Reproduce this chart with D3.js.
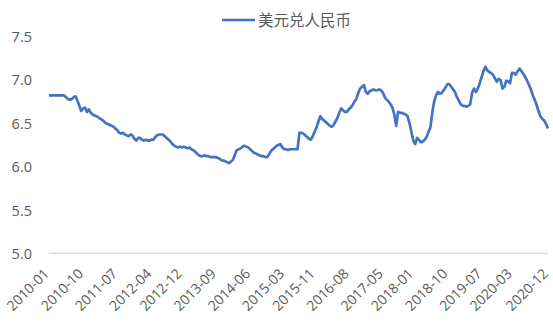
<!DOCTYPE html>
<html>
<head>
<meta charset="utf-8">
<script src="https://cdn.jsdelivr.net/npm/d3@7"></script>
<style>
html,body{margin:0;padding:0;background:#fff;}
svg{display:block;}
</style>
</head>
<body>
<svg id="chart" width="553" height="324"></svg>
<script>
const seriesName = "美元兑人民币";
const startYear = 2010, endYear = 2020;
// semi-monthly USD/CNY values (two per month: 1st and 16th), 2010-01 .. 2020-12
const values2010 = [6.82,6.82,6.82,6.82,6.82,6.82,6.82,6.82,6.82,6.80,6.78,6.77,6.78,6.80,6.81,6.76,6.70,6.64,6.67,6.68,6.63,6.66,6.62,6.60];
const values2011 = [6.59,6.58,6.57,6.55,6.54,6.52,6.50,6.49,6.48,6.47,6.46,6.44,6.42,6.39,6.38,6.39,6.37,6.36,6.35,6.37,6.36,6.32,6.30,6.33];
const values2012 = [6.33,6.31,6.30,6.31,6.30,6.30,6.31,6.31,6.34,6.36,6.37,6.37,6.37,6.35,6.33,6.31,6.29,6.26,6.24,6.23,6.22,6.23,6.22,6.23];
const values2013 = [6.22,6.21,6.22,6.20,6.19,6.17,6.15,6.13,6.12,6.12,6.13,6.12,6.12,6.11,6.11,6.11,6.11,6.10,6.09,6.07,6.07,6.06,6.05,6.04];
const values2014 = [6.06,6.08,6.14,6.19,6.20,6.21,6.23,6.24,6.23,6.22,6.20,6.18,6.16,6.15,6.14,6.13,6.12,6.12,6.11,6.11,6.14,6.18,6.20,6.22];
const values2015 = [6.24,6.25,6.26,6.22,6.20,6.20,6.19,6.20,6.20,6.20,6.20,6.20,6.39,6.39,6.38,6.36,6.34,6.32,6.31,6.35,6.40,6.45,6.52,6.58];
const values2016 = [6.55,6.53,6.51,6.49,6.47,6.46,6.48,6.52,6.56,6.62,6.67,6.65,6.63,6.63,6.66,6.68,6.71,6.75,6.78,6.85,6.90,6.92,6.94,6.86];
const values2017 = [6.84,6.87,6.88,6.89,6.88,6.88,6.89,6.88,6.85,6.80,6.77,6.75,6.72,6.68,6.60,6.47,6.63,6.62,6.62,6.61,6.60,6.58,6.50,6.40];
const values2018 = [6.30,6.26,6.33,6.31,6.28,6.29,6.31,6.34,6.40,6.45,6.62,6.75,6.82,6.86,6.84,6.85,6.88,6.91,6.95,6.95,6.92,6.89,6.86,6.80];
const values2019 = [6.76,6.72,6.70,6.70,6.69,6.70,6.72,6.85,6.90,6.86,6.90,6.96,7.03,7.10,7.15,7.11,7.09,7.08,7.06,7.02,6.98,7.01,7.00,6.90];
const values2020 = [6.92,6.99,6.98,6.96,7.08,7.08,7.06,7.10,7.13,7.10,7.07,7.03,6.99,6.94,6.89,6.82,6.77,6.71,6.64,6.58,6.55,6.53,6.49,6.44];
const values = [].concat(values2010, values2011, values2012, values2013, values2014, values2015, values2016, values2017, values2018, values2019, values2020);

const periods = [];
for (let y = startYear; y <= endYear; y++) for (let m = 1; m <= 12; m++) {
  const mm = y + "-" + String(m).padStart(2, "0");
  periods.push(mm + "-01", mm + "-16");
}
const tickLabels = ["2010-01","2010-10","2011-07","2012-04","2012-12","2013-09","2014-06","2015-03","2015-11","2016-08","2017-05","2018-01","2018-10","2019-07","2020-03","2020-12"];
const yTicks = [5.0,5.5,6.0,6.5,7.0,7.5];

const data = periods.map((d, i) => ({period: d, value: values[i]}));
const svg = d3.select("#chart");
const font = "'Open Sans', 'Noto Sans CJK SC', sans-serif";
const textColor = "#595959";

const x = d3.scalePoint().domain(periods).range([49, 548]);
const y = d3.scaleLinear().domain([5, 7.5]).range([253.3, 36.5]);

// baseline axis
svg.append("line")
  .attr("x1", 49).attr("x2", 548)
  .attr("y1", y(5)).attr("y2", y(5))
  .attr("stroke", "#d9d9d9").attr("stroke-width", 1.3);

// y axis labels
const yAxis = d3.axisLeft(y).tickValues(yTicks).tickFormat(d3.format(".1f")).tickSize(0).tickPadding(0);
const ya = svg.append("g").attr("transform", "translate(32,0)").call(yAxis);
ya.select(".domain").remove();
ya.selectAll("text").attr("fill", textColor).style("font-family", font).style("font-size", "14.5px").attr("dy", "0.35em");

// x axis labels
const tickPeriods = tickLabels.map((l, i) => {
  const ps = periods.filter(p => p.startsWith(l));
  return i === tickLabels.length - 1 ? ps[ps.length - 1] : ps[0];
});
const xAxis = d3.axisBottom(x).tickValues(tickPeriods).tickFormat(p => p.slice(0, 7)).tickSize(0).tickPadding(0);
const xa = svg.append("g").attr("transform", "translate(0," + 262 + ")").call(xAxis);
xa.select(".domain").remove();
xa.selectAll("text")
  .attr("fill", textColor).style("font-family", font).style("font-size", "14px")
  .attr("text-anchor", "end")
  .attr("y", 0).attr("dy", "0.35em")
  .attr("transform", "translate(-3,9) rotate(-45)");

// line
const line = d3.line().x(d => x(d.period)).y(d => y(d.value));
svg.append("path").datum(data)
  .attr("d", line)
  .attr("fill", "none")
  .attr("stroke", "#4472C4")
  .attr("stroke-width", 2.7)
  .attr("stroke-linejoin", "round");

// legend
svg.append("line").attr("x1", 222).attr("x2", 255).attr("y1", 20).attr("y2", 20)
  .attr("stroke", "#4472C4").attr("stroke-width", 2.6);
svg.append("text").attr("x", 258).attr("y", 20).attr("dy", "0.36em")
  .attr("fill", textColor).style("font-family", font).style("font-size", "15.5px")
  .text(seriesName);
</script>
</body>
</html>
